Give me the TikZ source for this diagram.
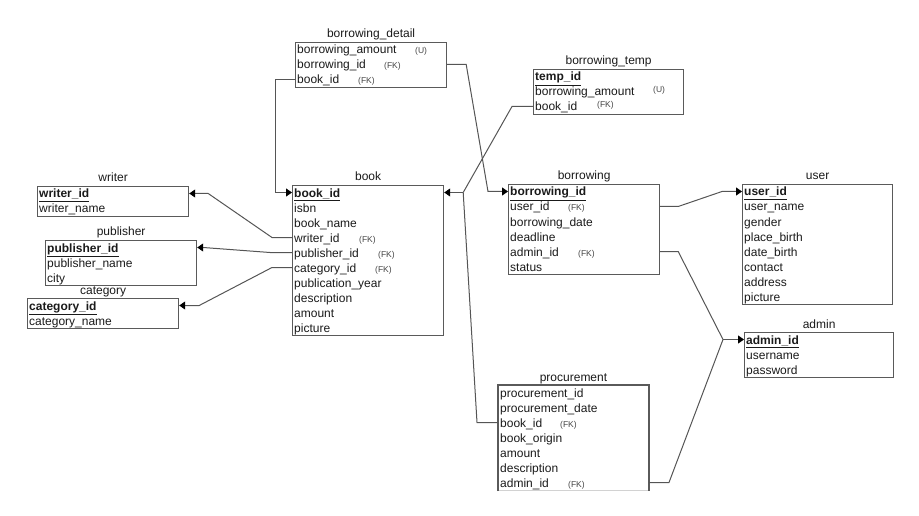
\documentclass[tikz,border=0pt]{standalone}
\usepackage{fontspec}
\setmainfont{Liberation Sans}
\usetikzlibrary{arrows.meta,calc}

\definecolor{boxc}{HTML}{5A5A5A}
\definecolor{linec}{HTML}{555555}
\definecolor{fkc}{HTML}{444444}
\definecolor{txtc}{HTML}{1A1A1A}

% rows of a table, placed 15 units apart under the top edge
\newcommand\erRows[2]{%
  \foreach \txt [count=\i] in {#2} {%
    \node[row] (#1-\i) at ([xshift=2pt,yshift={-(12+15*(\i-1))*1pt}]#1.north west) {\txt};
  }%
}
\newcommand\pk[1]{\underline{\textbf{#1}}}

\begin{document}
\begin{tikzpicture}[x=1pt,y=-1pt,
  tbl/.style={draw=boxc,line width=1.2pt,inner sep=0pt,anchor=north west,minimum width=151pt},
  row/.style={anchor=base west,inner sep=0pt,text height=9pt,text depth=0pt,
    text=txtc,font=\fontsize{12}{12}\selectfont},
  fk/.style={anchor=base west,inner sep=0pt,text=fkc,font=\fontsize{8.5}{8.5}\selectfont},
  ttl/.style={anchor=base,inner sep=0pt,text=txtc,font=\fontsize{12}{12}\selectfont},
  conn/.style={draw=linec,line width=1pt},
  tip/.style={-{Triangle[length=6pt,width=8pt,color=black]}}
]
\useasboundingbox (0,0) rectangle (919,516);

% ---------- tables ----------
\node[tbl,minimum height=30pt]  (writer)    at (37,186)  {};
\node[tbl,minimum height=45pt]  (publisher) at (45,240)  {};
\node[tbl,minimum height=30pt]  (category)  at (27,298)  {};
\node[tbl,minimum height=150pt] (book)      at (292,185) {};
\node[tbl,minimum height=45pt]  (bd)        at (295,42)  {};
\node[tbl,minimum height=45pt,minimum width=150pt] (bt) at (533,69) {};
\node[tbl,minimum height=90pt]  (borrowing) at (508,184) {};
\node[tbl,minimum height=120pt,minimum width=150pt] (user) at (742,184) {};
\node[tbl,minimum height=45pt,minimum width=149pt] (admin) at (744,332) {};
\node[tbl,draw=gray!35,line width=1pt,minimum height=105pt,minimum width=150pt] (proc) at (498,385) {};
\draw[boxc,line width=1.2pt] (proc.south west) |- (proc.north east) -- (proc.south east);

% ---------- titles ----------
\node[ttl] (writer-t)    at ($(writer.north)+(0,-4)$)    {writer};
\node[ttl] (publisher-t) at ($(publisher.north)+(0,-4)$) {publisher};
\node[ttl] (category-t)  at ($(category.north)+(0,-4)$)  {category};
\node[ttl] (book-t)      at ($(book.north)+(0,-4)$)      {book};
\node[ttl] (bd-t)        at ($(bd.north)+(0,-4)$)        {borrowing\_detail};
\node[ttl] (bt-t)        at ($(bt.north)+(0,-4)$)        {borrowing\_temp};
\node[ttl] (borrowing-t) at ($(borrowing.north)+(0,-4)$) {borrowing};
\node[ttl] (user-t)      at ($(user.north)+(0,-4)$)      {user};
\node[ttl] (admin-t)     at ($(admin.north)+(0,-4)$)     {admin};
\node[ttl] (proc-t)      at ($(proc.north)+(0,-4)$)      {procurement};

% ---------- rows ----------
\erRows{writer}{\pk{writer\_id},writer\_name}
\erRows{publisher}{\pk{publisher\_id},publisher\_name,city}
\erRows{category}{\pk{category\_id},category\_name}
\erRows{book}{\pk{book\_id},isbn,book\_name,writer\_id,publisher\_id,category\_id,publication\_year,description,amount,picture}
\erRows{bd}{borrowing\_amount,borrowing\_id,book\_id}
\erRows{bt}{\pk{temp\_id},borrowing\_amount,book\_id}
\erRows{borrowing}{\pk{borrowing\_id},user\_id,borrowing\_date,deadline,admin\_id,status}
\erRows{user}{\pk{user\_id},user\_name,gender,place\_birth,date\_birth,contact,address,picture}
\erRows{admin}{\pk{admin\_id},username,password}
\erRows{proc}{procurement\_id,procurement\_date,book\_id,book\_origin,amount,description,admin\_id}

% ---------- key markers ----------
\node[fk] (book-fk4) at (359,242) {(FK)};
\node[fk] (book-fk5) at (378,257) {(FK)};
\node[fk] (book-fk6) at (375,272) {(FK)};
\node[fk] (bd-u1)    at (415,54)  {(U)};
\node[fk] (bd-fk2)   at (384,69)  {(FK)};
\node[fk] (bd-fk3)   at (358,84)  {(FK)};
\node[fk] (bt-u2)    at (653,93)  {(U)};
\node[fk] (bt-fk3)   at (597,108) {(FK)};
\node[fk] (borrowing-fk2) at (568,211) {(FK)};
\node[fk] (borrowing-fk5) at (578,256) {(FK)};
\node[fk] (proc-fk3) at (560,427) {(FK)};
\node[fk] (proc-fk7) at (568,487) {(FK)};

% ---------- connectors ----------
% book -> writer / publisher / category
\draw[conn,tip] (book.west |- book-4) -- ++(-20,0)
  -- ($(writer.east |- writer-1)+(19,0)$) -- (writer.east |- writer-1);
\draw[conn,tip] (book.west |- book-5) -- ++(-22,0)
  -- ($(publisher.east |- publisher-1)+(6,0)$) -- (publisher.east |- publisher-1);
\draw[conn,tip] (book.west |- book-6) -- ++(-20,0)
  -- ($(category.east |- category-1)+(20,0)$) -- (category.east |- category-1);

% borrowing_detail -> book, borrowing
\draw[conn,tip] (bd.west |- bd-3) -- ++(-20,0) |- (book.west |- book-1);
\draw[conn,tip] (bd.east |- bd-2) -- ++(19,0)
  -- ($(borrowing.west |- borrowing-1)+(-20,0)$) -- (borrowing.west |- borrowing-1);

% borrowing_temp, procurement -> book
\coordinate (jb) at ($(book.east |- book-1)+(19,0)$);
\draw[conn] (bt.west |- bt-3) -- ++(-21,0) -- (jb);
\draw[conn] (proc.west |- proc-3) -- ++(-21,0) -- (jb);
\draw[conn,tip] (jb) -- (book.east |- book-1);

% borrowing -> user
\draw[conn,tip] (borrowing.east |- borrowing-2) -- ++(18,0)
  -- ($(user.west |- user-1)+(-20,0)$) -- (user.west |- user-1);

% borrowing, procurement -> admin
\coordinate (ja) at ($(admin.west |- admin-1)+(-21,0)$);
\draw[conn] (borrowing.east |- borrowing-5) -- ++(18,0) -- (ja);
\draw[conn] (proc.east |- proc-7) -- ++(20,0) -- (ja);
\draw[conn,tip] (ja) -- (admin.west |- admin-1);
\end{tikzpicture}
\end{document}
